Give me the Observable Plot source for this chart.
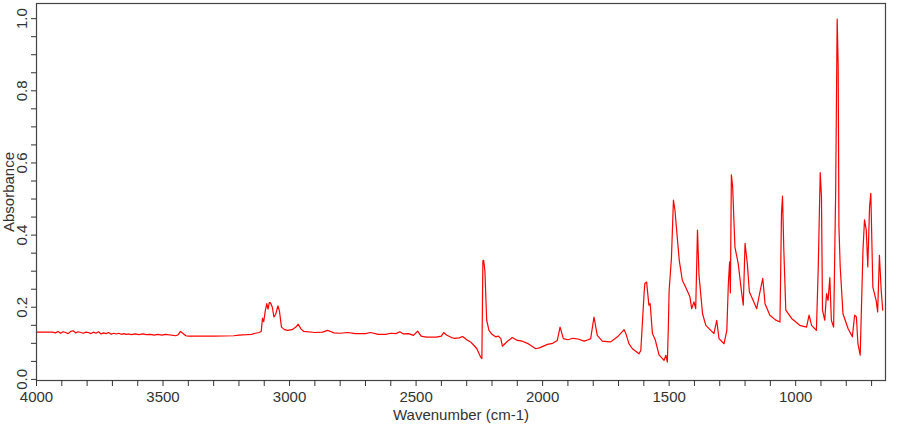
<!DOCTYPE html>
<html><head><meta charset="utf-8">
<script src="https://cdn.jsdelivr.net/npm/d3@7"></script>
<script src="https://cdn.jsdelivr.net/npm/@observablehq/plot@0.6"></script>
<style>body{margin:0;background:#fff;} svg{display:block;}</style>
</head><body><div id="chart"></div>
<script>
const wavenumber = [4000,3937,3925,3915,3905,3895,3885,3875,3865,3855,3845,3835,3825,3815,3805,3795,3785,3775,3765,3755,3745,3735,3725,3715,3705,3695,3685,3675,3665,3655,3645,3635,3625,3610,3595,3580,3565,3550,3535,3520,3505,3490,3482,
3450,3440,3431,3422,3410,3400,3300,3221,3200,3170,3150,3135,3120,3112,3107,3102,3096,3090,3085,3080,3075,3068,3062,3055,3046,3040,3032,3020,3008,2990,2975,2966,2955,2944,2900,2870,2850,2835,2825,2800,2770,2740,2700,2680,2650,2620,2600,2580,2564,2550,2530,2510,2494,2480,2460,2440,2420,2400,2391,2380,2360,2350,2330,2316,2300,2285,2271,2260,2250,2245,2240,
2236,2233,2228,2221,2212,2200,2186,2175,2165,2159,2140,2120,2100,2080,2060,2027,2010,1981,1960,1942,1931,1918,1900,1880,1860,1836,1820,1810,1797,1784,1764,1745,1731,1720,1704,1695,1678,1670,1659,1645,1619,1612,
1599,1596,1589,1580,1575,1566,1555,1540,1520,1513,1507,1503,1500,1491,1483,1477,1467,1460,1448,1435,1418,1411,1402,1395,1388,1382,1368,1355,1323,1312,1303,1283,1272,1266,1261,1258,1254,1249,1240,1227,1214,1207,1200,1191,1183,1168,1154,1141,1130,1121,1102,1080,1062,1056,1052,1047,1039,1016,984,957,947,937,918,911,903,898,894,885,878,872,865,859,850,842,836,832,829,824,813,793,776,767,760,754,745,741,734,728,721,715,708,703,695,682,676,669,662,656];
const absorbance = [0.131,0.131,0.129,0.133,0.128,0.132,0.130,0.127,0.133,0.135,0.129,0.132,0.130,0.128,0.131,0.130,0.127,0.131,0.128,0.132,0.126,0.129,0.127,0.130,0.125,0.128,0.126,0.128,0.125,0.127,0.125,0.126,0.124,0.126,0.124,0.126,0.124,0.125,0.123,0.125,0.123,0.125,0.124,
0.121,0.124,0.133,0.128,0.121,0.120,0.120,0.121,0.123,0.124,0.125,0.128,0.130,0.133,0.170,0.160,0.190,0.210,0.195,0.213,0.212,0.200,0.173,0.180,0.204,0.190,0.145,0.138,0.136,0.138,0.145,0.153,0.140,0.133,0.130,0.131,0.136,0.132,0.129,0.128,0.130,0.127,0.127,0.130,0.125,0.125,0.128,0.127,0.132,0.126,0.127,0.122,0.134,0.120,0.117,0.117,0.117,0.120,0.130,0.123,0.116,0.114,0.115,0.119,0.110,0.104,0.094,0.085,0.070,0.062,0.058,
0.329,0.330,0.300,0.164,0.136,0.125,0.118,0.120,0.113,0.092,0.105,0.116,0.108,0.106,0.100,0.085,0.088,0.097,0.100,0.108,0.145,0.113,0.110,0.114,0.112,0.106,0.110,0.113,0.173,0.122,0.106,0.105,0.104,0.110,0.118,0.125,0.138,0.125,0.099,0.085,0.071,0.080,
0.238,0.266,0.270,0.206,0.210,0.127,0.110,0.068,0.053,0.067,0.048,0.150,0.247,0.335,0.497,0.469,0.386,0.330,0.275,0.256,0.229,0.196,0.215,0.196,0.414,0.289,0.182,0.150,0.127,0.164,0.113,0.099,0.136,0.266,0.326,0.240,0.567,0.534,0.367,0.321,0.243,0.206,0.377,0.321,0.243,0.219,0.196,0.243,0.280,0.210,0.178,0.165,0.159,0.460,0.508,0.363,0.192,0.169,0.150,0.145,0.178,0.150,0.136,0.303,0.573,0.506,0.192,0.164,0.238,0.219,0.282,0.164,0.145,0.516,0.999,0.868,0.423,0.312,0.182,0.141,0.118,0.178,0.173,0.099,0.067,0.173,0.358,0.442,0.414,0.312,0.479,0.516,0.256,0.219,0.187,0.344,0.247,0.192];
const xMinorTicks = d3.range(700, 4001, 100);
const xMajorTicks = [4000, 3500, 3000, 2500, 2000, 1500, 1000];
const yMinorTicks = d3.range(0, 21).map(i => i * 0.05);
const yMajorTicks = [0, 0.2, 0.4, 0.6, 0.8, 1.0];

const data = wavenumber.map((w, i) => ({w, a: absorbance[i]}));
const font = "Liberation Sans, Arial, sans-serif";
const chart = Plot.plot({
  width: 900, height: 425,
  marginLeft: 36, marginRight: 15, marginTop: 3, marginBottom: 45,
  x: {domain: [4000, 645], axis: null},
  y: {domain: [-0.003, 1.042], axis: null},
  style: {fontFamily: font, fontSize: "15px", color: "#333", background: "#fff"},
  marks: [
    Plot.line(data, {x: "w", y: "a", stroke: "#ff0000", strokeWidth: 1.2}),
    Plot.frame({stroke: "#444", strokeWidth: 1.2}),
    Plot.axisX({ticks: xMinorTicks, tickSize: 6, tickFormat: () => "", label: null, stroke: "#333"}),
    Plot.axisX({ticks: xMajorTicks, tickSize: 0, tickPadding: 11, label: null, tickFormat: d => String(d), fontSize: 15, fill: "#333"}),
    Plot.axisY({ticks: yMinorTicks, tickSize: 5, tickFormat: () => "", label: null, stroke: "#333"}),
    Plot.text(yMajorTicks, {y: d => d, frameAnchor: "left", dx: -14, dy: 0, rotate: -90, text: d => d.toFixed(1), textAnchor: "middle", lineAnchor: "middle", fontSize: 15, fill: "#333"}),
    Plot.text(["Wavenumber (cm-1)"], {frameAnchor: "bottom", dy: 35, text: d => d, textAnchor: "middle", lineAnchor: "middle", fontSize: 15, fill: "#333"}),
    Plot.text(["Absorbance"], {frameAnchor: "left", dx: -27, rotate: -90, text: d => d, textAnchor: "middle", lineAnchor: "middle", fontSize: 15, fill: "#333"})
  ]
});
document.getElementById("chart").appendChild(chart);
</script>
</body></html>
